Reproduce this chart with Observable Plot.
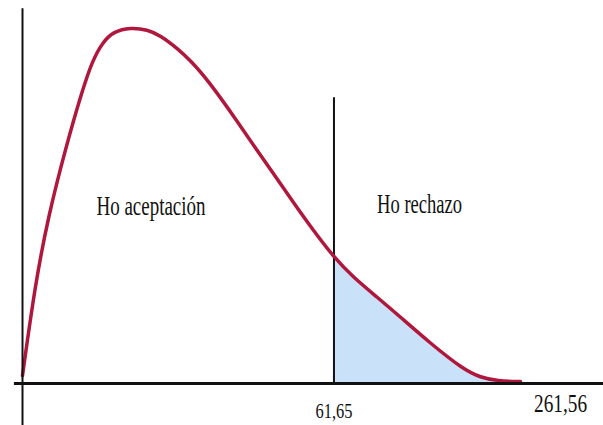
<!DOCTYPE html>
<html><head><meta charset="utf-8">
<script src="https://cdn.jsdelivr.net/npm/d3@7"></script>
<script src="https://cdn.jsdelivr.net/npm/@observablehq/plot@0.6"></script>
<style>body{margin:0;background:#fff}</style>
</head><body><div id="chart"></div>
<script>
// Density curve (x in statistic units, y in relative density)
const curveX = [0, 2.57, 5.15, 8.51, 11.88, 13.86, 15.83, 18.01, 21.38, 24.74, 27.32, 30.68, 33.26, 36.62, 42.56, 47.11, 50.48, 53.64, 57.01, 61.65, 65.52, 70.27, 74.23, 80.76, 87.29, 90.66, 94.02, 98.57];
const curveY = [2.25, 28.37, 47.19, 66.01, 82.58, 90.73, 95.79, 98.88, 100, 99.4, 97.75, 94.10, 90.73, 85.39, 73.60, 64.04, 57.30, 50.84, 44.10, 35.39, 29.78, 24.16, 19.38, 11.24, 3.93, 1.69, 0.70, 0.56];
const criticalValue = 61.65;
const tickLabels = ["61,65", "261,56"];
const tickValues = [61.65, 106.5];
const regionLabels = ["Ho aceptación", "Ho rechazo"];

const curve = curveX.map((x, i) => ({x, y: curveY[i]}));
const tail = curve.filter(d => d.x >= criticalValue);

const font = "'Liberation Serif', 'Times New Roman', serif";

const svg = Plot.plot({
  width: 603,
  height: 425,
  marginLeft: 22,
  marginRight: 0,
  marginTop: 27,
  marginBottom: 42,
  x: {domain: [0, 115], axis: null},
  y: {domain: [0, 100], axis: null},
  style: {fontFamily: font, background: "#fff"},
  marks: [
    Plot.areaY(tail, {x: "x", y: "y", fill: "#c9e2f9", curve: "basis"}),
    Plot.ruleX([criticalValue], {y1: 0, y2: 80.3, stroke: "#111", strokeWidth: 2}),
    Plot.lineY(curve, {x: "x", y: "y", stroke: "#b0173c", strokeWidth: 3.5, curve: "basis"}),
    Plot.ruleX([0], {y1: 105.3, y2: -11.8, stroke: "#111", strokeWidth: 2}),
    Plot.ruleY([0], {x1: -1.6, x2: 115, stroke: "#111", strokeWidth: 3}),
    Plot.text([regionLabels[0]], {x: 25.43, y: 47.2, text: d => d, fontSize: 28, lineAnchor: "bottom", textAnchor: "middle", fill: "#111"}),
    Plot.text([regionLabels[1]], {x: 78.6, y: 47.8, text: d => d, fontSize: 28, lineAnchor: "bottom", textAnchor: "middle", fill: "#111"}),
    Plot.axisX({ticks: [tickValues[0]], tickFormat: () => tickLabels[0], tickSize: 0, tickPadding: 19, fontSize: 22, label: null, fill: "#111"}),
    Plot.axisX({ticks: [tickValues[1]], tickFormat: () => tickLabels[1], tickSize: 0, tickPadding: 11, fontSize: 25, label: null, fill: "#111"})
  ]
});

// Condensed lettering as in the reference
const lengths = {"Ho aceptación": 109, "Ho rechazo": 85, "61,65": 37, "261,56": 53};
d3.select(svg).selectAll("text").each(function() {
  const t = this.textContent;
  if (lengths[t]) {
    this.setAttribute("textLength", lengths[t]);
    this.setAttribute("lengthAdjust", "spacingAndGlyphs");
  }
});

document.getElementById("chart").appendChild(svg);
</script>
</body></html>
